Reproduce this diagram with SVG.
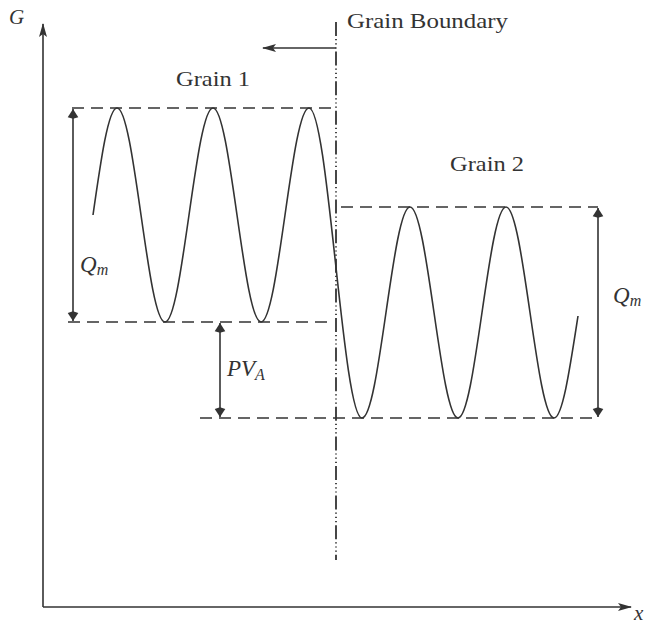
<svg xmlns="http://www.w3.org/2000/svg" width="650" height="624" viewBox="0 0 650 624">
<style>
.ax{stroke:#333;stroke-width:1.6;fill:none}
.dash{stroke:#333;stroke-width:1.5;fill:none;stroke-dasharray:12,7}
.arr{stroke:#333;stroke-width:1.6;fill:none}
.wave{stroke:#333;stroke-width:1.6;fill:none}
.gb{stroke:#333;stroke-width:1.8;fill:none;stroke-dasharray:14,3,1.2,3,1.2,3,1.2,3}
.t{font-family:"Liberation Serif","DejaVu Serif",serif;font-size:21px;fill:#333}
.m{font-family:"Liberation Serif","DejaVu Serif",serif;font-style:italic;fill:#333}
</style>
<defs>
<marker id="ah" viewBox="0 0 14 10" refX="13" refY="5" markerWidth="14" markerHeight="10" markerUnits="userSpaceOnUse" orient="auto-start-reverse">
<path d="M0,1 L14,5 L0,9 L3,5 Z" fill="#333"/>
</marker>
<marker id="ab" viewBox="0 0 12 16" refX="12" refY="8" markerWidth="11" markerHeight="13" markerUnits="userSpaceOnUse" orient="auto-start-reverse">
<path d="M0,8 L2,1.5 L12,8 L2,14.5 Z" fill="#333"/>
</marker>
</defs>
<g id="axes">
<line class="ax" x1="43" y1="607" x2="43" y2="24" marker-end="url(#ah)"/>
<line class="ax" x1="43" y1="607" x2="631" y2="607" marker-end="url(#ah)"/>
<text class="m" x="9" y="24" font-size="21">G</text>
<text class="m" x="634" y="620" font-size="21">x</text>
</g>
<g id="levels">
<line class="dash" x1="72" y1="108" x2="336" y2="108"/>
<line class="dash" x1="68" y1="322" x2="334" y2="322"/>
<line class="dash" x1="341" y1="207" x2="598" y2="207"/>
<line class="dash" x1="200" y1="418" x2="598" y2="418"/>
</g>
<g id="grain-boundary">
<line class="gb" x1="336" y1="22" x2="336" y2="560"/>
<text class="t" x="347" y="28" textLength="161" lengthAdjust="spacingAndGlyphs">Grain Boundary</text>
</g>
<g id="grain1-label"><text class="t" x="176" y="86" textLength="74" lengthAdjust="spacingAndGlyphs">Grain 1</text></g>
<g id="grain2-label"><text class="t" x="450" y="171" textLength="74" lengthAdjust="spacingAndGlyphs">Grain 2</text></g>
<g id="curve">
<path class="wave" d="M93,215 C100.83,160.2 108.31,108 117,108 C125.69,108 133.17,160.2 141,215 C148.83,269.8 156.31,322 165,322 C173.69,322 181.17,269.8 189,215 C196.83,160.2 204.31,108 213,108 C221.69,108 229.17,160.2 237,215 C244.83,269.8 252.31,322 261,322 C269.69,322 277.17,269.8 285,215 C292.83,160.2 300.31,108 309,108 C318.59,108 326.86,183.6 335.5,263 C344.14,342.4 352.41,418 362,418 C370.69,418 378.17,366.55 386,312.5 C393.83,258.45 401.31,207 410,207 C418.69,207 426.17,258.45 434,312.5 C441.83,366.55 449.31,418 458,418 C466.69,418 474.17,366.55 482,312.5 C489.83,258.45 497.31,207 506,207 C514.69,207 522.17,258.45 530,312.5 C537.83,366.55 545.31,418 554,418 C562.69,418 570.17,366.55 578,316"/>
</g>
<g id="connectors">
<line class="arr" x1="336" y1="48" x2="263" y2="48" marker-end="url(#ah)"/>
<line class="arr" x1="73" y1="109" x2="73" y2="321" marker-start="url(#ab)" marker-end="url(#ab)"/>
<line class="arr" x1="220" y1="323" x2="220" y2="417" marker-start="url(#ab)" marker-end="url(#ab)"/>
<line class="arr" x1="598" y1="208" x2="598" y2="417" marker-start="url(#ab)" marker-end="url(#ab)"/>
</g>
<g id="labels">
<text class="m" x="80" y="272" font-size="23">Q<tspan font-size="16" dy="3">m</tspan></text>
<text class="m" x="227" y="376" font-size="23">PV<tspan font-size="16" dy="4">A</tspan></text>
<text class="m" x="613" y="303" font-size="23">Q<tspan font-size="16" dy="3">m</tspan></text>
</g>
</svg>
